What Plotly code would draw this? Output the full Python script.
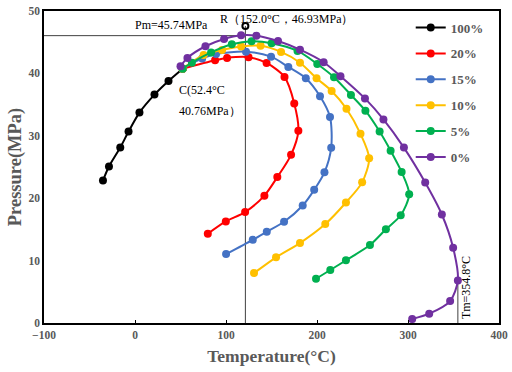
import plotly.graph_objects as go

# ---- data ----
names = ["100%", "20%", "15%", "10%", "5%", "0%"]
colors = ["#000000", "#FF0000", "#4472C4", "#FFC000", "#00B050", "#7030A0"]

t_100 = [-35.2, -28.6, -16.2, -7.1, 4.9, 21.4, 36.8, 52.4]
p_100 = [22.83, 25.07, 28.12, 30.68, 33.72, 36.6, 38.79, 40.76]

t_20 = [52.4, 88.0, 101.2, 124.8, 144.6, 164.3, 175.0, 179.5, 171.5, 156.4, 142.2, 121.0, 99.8, 80.0]
p_20 = [40.76, 42.11, 42.48, 42.60, 41.67, 39.43, 35.19, 30.79, 26.95, 23.38, 20.41, 17.77, 16.27, 14.30]

t_15 = [52.4, 73.8, 89.1, 122.0, 149.5, 168.5, 187.7, 203.3, 214.3, 215.6, 208.2, 196.9, 184.3, 163.8, 144.8, 129.4, 100.1]
p_15 = [40.76, 42.4, 43.11, 43.48, 42.68, 41.03, 39.22, 36.34, 33.03, 28.1, 24.14, 21.34, 18.83, 16.22, 14.62, 13.34, 11.05]

t_10 = [52.4, 75.4, 95.7, 116.6, 138.0, 160.5, 181.3, 199.5, 216.1, 232.4, 247.8, 257.3, 249.6, 231.8, 209.1, 181.3, 155.0, 130.8]
p_10 = [40.76, 42.95, 43.76, 44.32, 44.43, 43.44, 41.71, 39.23, 37.19, 34.34, 30.31, 26.39, 22.54, 19.31, 15.85, 12.81, 10.53, 8.0]

t_5 = [52.4, 62.5, 83.6, 106.4, 128.1, 150.1, 178.6, 200.3, 218.7, 237.3, 253.2, 268.8, 280.9, 293.0, 301.3, 292.0, 275.7, 258.2, 231.8, 214.6, 198.9]
p_5 = [40.76, 41.72, 43.36, 44.67, 45.16, 44.83, 43.6, 41.51, 39.39, 36.55, 34.02, 30.68, 27.62, 24.19, 20.65, 17.26, 15.02, 12.49, 10.05, 8.49, 7.09]

t_0 = [50.0, 57.6, 77.4, 97.9, 116.6, 133.4, 157.2, 181.3, 207.3, 225.8, 252.7, 273.0, 295.5, 318.9, 337.2, 349.6, 354.8, 346.3, 323.3, 304.6]
p_0 = [41.15, 42.48, 44.35, 45.52, 46.11, 46.05, 45.2, 43.8, 41.79, 39.56, 35.99, 32.63, 28.11, 22.51, 17.39, 12.06, 6.82, 3.52, 1.49, 0.64]

series_t = [t_100, t_20, t_15, t_10, t_5, t_0]
series_p = [p_100, p_20, p_15, p_10, p_5, p_0]

# reference lines / points
r_t, r_p = 121.3, 47.6
pm_p = 46.05
tm_t, tm_p = 354.8, 6.82

x_ticks = [-100, 0, 100, 200, 300, 400]
y_ticks = [0, 10, 20, 30, 40, 50]

SERIF = "Liberation Serif"
GRAY = "#595959"

fig = go.Figure()

# guide lines
fig.add_trace(go.Scatter(x=[-100, r_t], y=[pm_p, pm_p], mode="lines",
                         line=dict(color="#404040", width=1), showlegend=False, hoverinfo="skip"))
fig.add_trace(go.Scatter(x=[r_t, r_t], y=[0, r_p], mode="lines",
                         line=dict(color="#404040", width=1), showlegend=False, hoverinfo="skip"))
fig.add_trace(go.Scatter(x=[tm_t, tm_t], y=[0, tm_p], mode="lines",
                         line=dict(color="#404040", width=1), showlegend=False, hoverinfo="skip"))

for i, (n, c) in enumerate(zip(names, colors)):
    fig.add_trace(go.Scatter(
        x=series_t[i], y=series_p[i], mode="lines+markers", name=n,
        legendgroup=n,
        line=dict(color=c, width=2, shape="spline", smoothing=0.8),
        marker=dict(color=c, size=8),
    ))

fig.add_trace(go.Scatter(x=[r_t], y=[r_p], mode="markers", showlegend=False,
                         marker=dict(symbol="circle-open", color="black", size=6, line=dict(width=2))))

ann_font = dict(family=SERIF, size=12, color="black")
fig.add_annotation(x=39.7, y=47.8, text="Pm=45.74MPa", showarrow=False, font=ann_font,
                   xanchor="center", yanchor="middle")
fig.add_annotation(x=166, y=48.75, text="R（152.0°C，46.93MPa）", showarrow=False, font=ann_font,
                   xanchor="center", yanchor="middle")
fig.add_annotation(x=46.5, y=37.3, text="C(52.4°C", showarrow=False, font=ann_font,
                   xanchor="left", yanchor="middle")
fig.add_annotation(x=46.5, y=33.95, text="40.76MPa）", showarrow=False, font=ann_font,
                   xanchor="left", yanchor="middle")
fig.add_annotation(x=363.8, y=5.6, text="Tm=354.8°C", showarrow=False, font=ann_font,
                   textangle=-90, xanchor="center", yanchor="middle")

fig.update_layout(
    width=512, height=372,
    margin=dict(l=44, r=13, t=11, b=49, autoexpand=False),
    paper_bgcolor="white", plot_bgcolor="white",
    font=dict(family=SERIF),
    showlegend=True,
    legend=dict(x=0.806, y=0.995, xanchor="left", yanchor="top",
                font=dict(family=SERIF, size=13, color=GRAY, weight="bold"),
                bgcolor="rgba(0,0,0,0)", traceorder="grouped", tracegroupgap=6,
                itemwidth=30),
    xaxis=dict(range=[-100, 400], tickvals=x_ticks, showgrid=False, zeroline=False,
               automargin=False,
               showline=True, linecolor="black", linewidth=1.5, mirror=True,
               ticks="inside", ticklen=3, tickcolor="black",
               tickfont=dict(family=SERIF, size=11.5, color=GRAY, weight="bold"),
               title=dict(text="Temperature(°C)", standoff=10,
                          font=dict(family=SERIF, size=17.5, color=GRAY, weight="bold"))),
    yaxis=dict(range=[0, 50], tickvals=y_ticks, showgrid=False, zeroline=False,
               automargin=False,
               showline=True, linecolor="black", linewidth=1.5, mirror=True,
               ticks="", tickfont=dict(family=SERIF, size=11.5, color=GRAY, weight="bold"),
               title=dict(text="Pressure(MPa)", standoff=2,
                          font=dict(family=SERIF, size=18.5, color=GRAY, weight="bold"))),
)

# remove the default page margin so the 512x372 figure fills the window exactly
fig.write_html("out.html",
               config={"displayModeBar": False},
               post_script="document.body.style.margin='0';document.body.style.overflow='hidden';")
